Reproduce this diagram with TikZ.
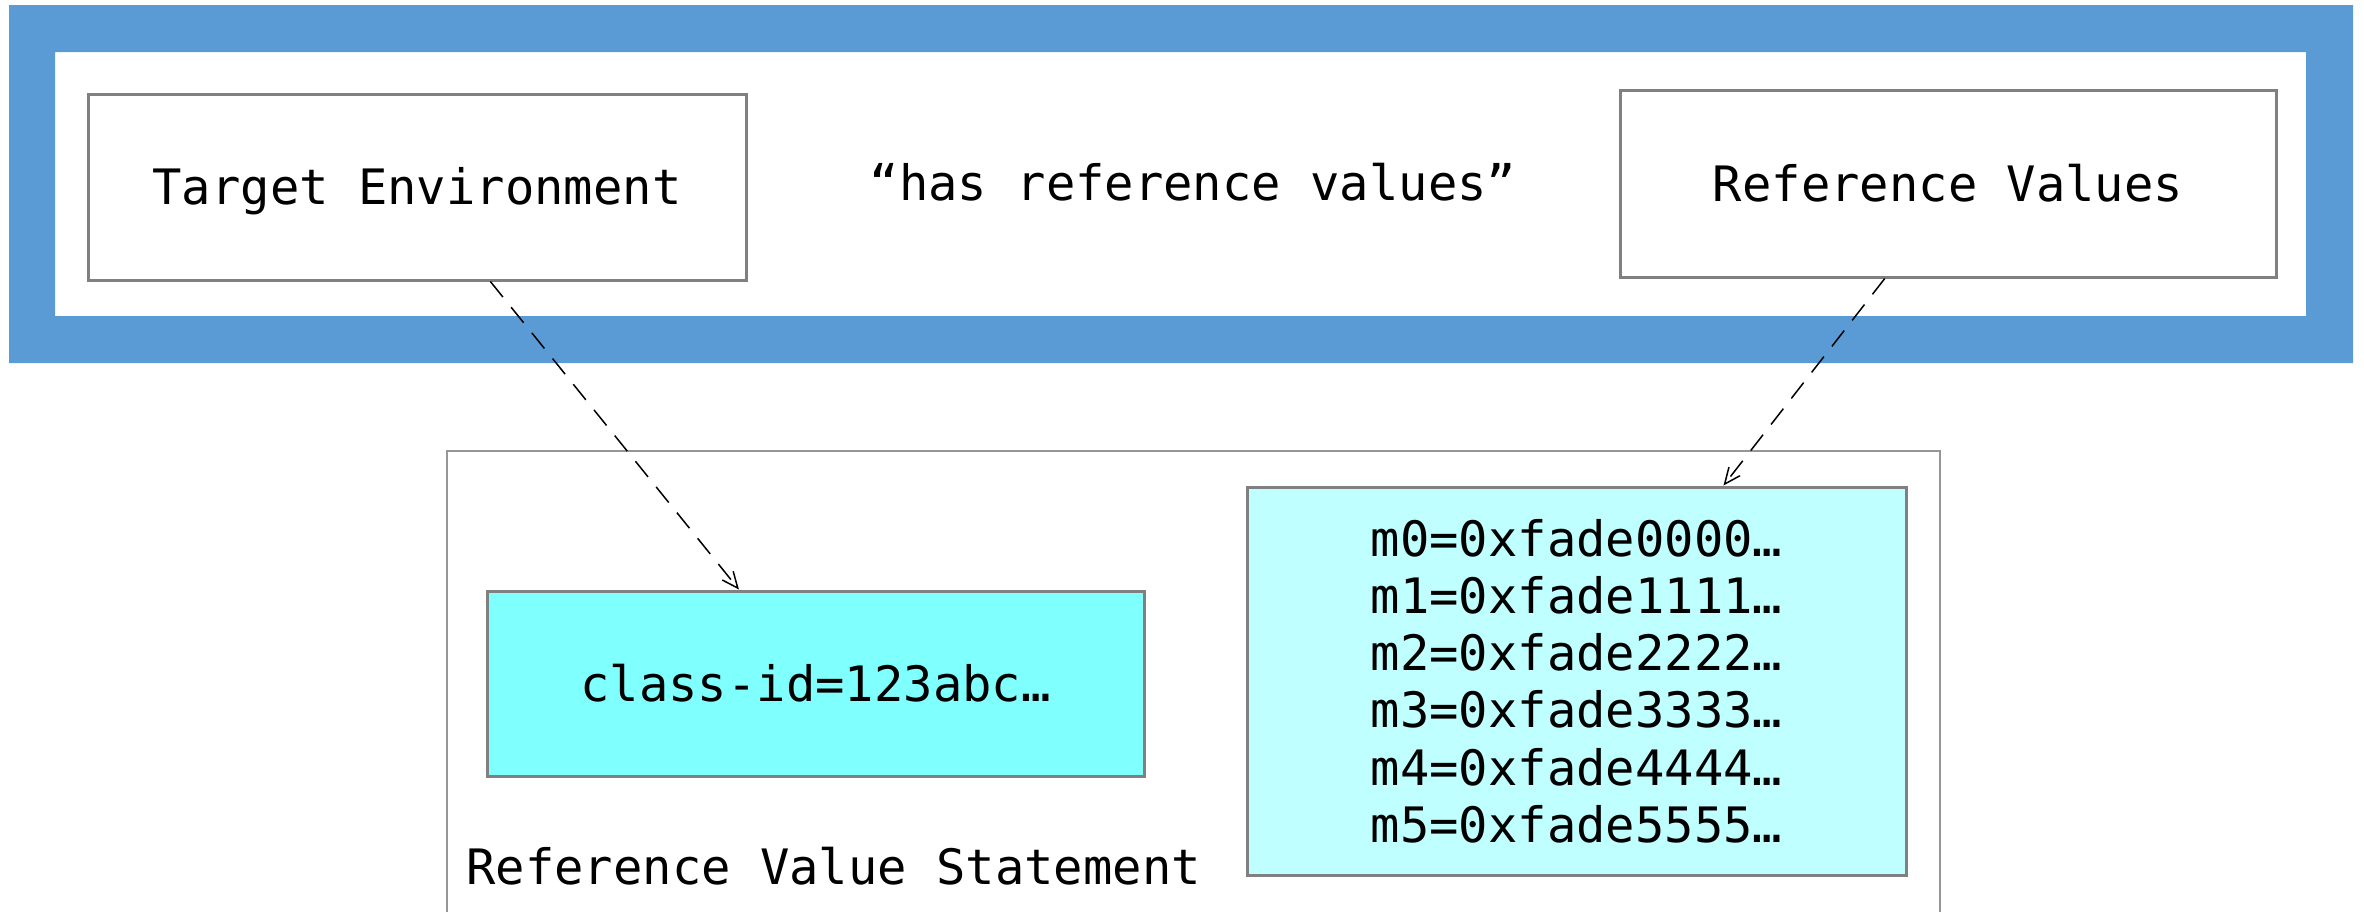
\documentclass[tikz,border=0pt]{standalone}
\usepackage{fontspec}
\newfontfamily\codefont{DejaVu Sans Mono}
\usetikzlibrary{arrows.meta,calc}

\definecolor{frameblue}{RGB}{91,155,213}
\definecolor{edgegray}{RGB}{128,128,128}
\definecolor{thingray}{RGB}{150,150,150}
\definecolor{cyanstrong}{RGB}{128,255,255}
\definecolor{cyanpale}{RGB}{192,255,255}

\tikzset{
  codetext/.style={font=\codefont\fontsize{24.4pt}{28.6pt}\selectfont},
  % cap-height band, so single lines sit centred in their boxes
  capline/.style={text height=17.8pt, text depth=0pt},
  plainbox/.style={draw=edgegray, line width=1.5pt, fill=white, inner sep=0pt,
    codetext, capline},
  valuebox/.style={draw=edgegray, line width=1.5pt, inner sep=0pt, codetext},
  dasharrow/.style={black, line width=0.75pt, dash pattern=on 10pt off 6.5pt,
    -{Straight Barb[length=8pt,width=7pt,line width=0.75pt]}},
  openframe/.style={draw=thingray, line width=0.75pt},
}

\begin{document}
\begin{tikzpicture}[x=0.5pt,y=-0.5pt]
\useasboundingbox (0,0) rectangle (2364,912);

% blue band round the top row
\fill[frameblue,even odd rule] (9,5) rectangle (2353,363) (55,52) rectangle (2306,316);

% top row
\node[plainbox, minimum width=329pt, minimum height=93pt] (te) at (417,187) {Target Environment};
\node[plainbox, minimum width=328pt, minimum height=93.5pt] (rv) at (1948,183.5) {Reference Values};
\node[codetext, anchor=base] (has) at (1193,200) {“has reference values”};

% statement container, open at the bottom
\draw[openframe] (447,912) -- (447,451) -- (1940,451) -- (1940,912);
\node[codetext, anchor=base west, inner sep=0pt] (rvs) at (466,884) {Reference Value Statement};

% statement contents
\node[valuebox, capline, fill=cyanstrong, minimum width=328.5pt, minimum height=92.5pt]
  (ci) at (815.5,683.5) {class-id=123abc…};
\node[valuebox, fill=cyanpale, minimum width=329.5pt, minimum height=194pt, align=center]
  (mv) at (1576.5,681) {m0=0xfade0000…\\m1=0xfade1111…\\m2=0xfade2222…\\m3=0xfade3333…\\m4=0xfade4444…\\m5=0xfade5555…};

% connectors
\draw[dasharrow] ($(te.south west)!0.611!(te.south east)$) -- ($(ci.north west)!0.384!(ci.north east)$);
\draw[dasharrow] ($(rv.south west)!0.404!(rv.south east)$) -- ($(mv.north west)!0.722!(mv.north east)$);
\end{tikzpicture}
\end{document}
